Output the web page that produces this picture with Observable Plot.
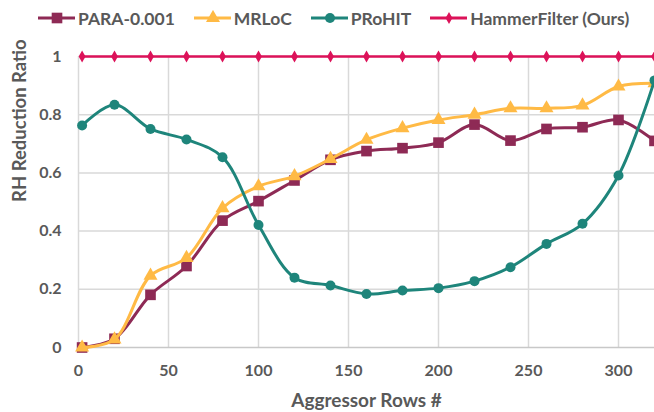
<!DOCTYPE html>
<html><head><meta charset="utf-8">
<script src="https://cdn.jsdelivr.net/npm/d3@7"></script>
<script src="https://cdn.jsdelivr.net/npm/@observablehq/plot@0.6"></script>
<style>
body{margin:0;background:#fff;font-family:Lato,sans-serif;overflow:hidden;}
#legend{height:36px;display:flex;align-items:center;padding-left:38px;font-weight:700;font-size:17.5px;color:#595959;white-space:nowrap;}
.item{display:flex;align-items:center;margin-right:19px;}
.item svg{margin-right:3px;}
</style></head><body>
<div id="legend"></div><div id="chart"></div>
<script>
const rows = [2,20,40,60,80,100,120,140,160,180,200,220,240,260,280,300,320];
const para = [0,0.03,0.181,0.28,0.436,0.503,0.574,0.645,0.675,0.685,0.704,0.766,0.711,0.751,0.757,0.782,0.71];
const mrloc = [0,0.028,0.247,0.308,0.479,0.554,0.589,0.648,0.714,0.754,0.782,0.80,0.822,0.822,0.832,0.897,0.908];
const prohit = [0.763,0.834,0.751,0.715,0.654,0.421,0.24,0.213,0.184,0.196,0.204,0.228,0.276,0.356,0.425,0.591,0.918];
const hammer = [1,1,1,1,1,1,1,1,1,1,1,1,1,1,1,1,1];
const seriesNames = ["PARA-0.001","MRLoC","PRoHIT","HammerFilter (Ours)"];
const seriesColors = ["#8E2A55","#FFBA45","#1E857B","#DC1259"];
const seriesSymbols = ["square","triangle","circle","diamond"];
const seriesR = [6,5.2,5,3.6];
const xTicks = [0,50,100,150,200,250,300];
const yTicks = [0,0.2,0.4,0.6,0.8,1];

const values = [para, mrloc, prohit, hammer];
const data = [];
values.forEach((vals, s) => vals.forEach((v, i) => data.push({series: seriesNames[s], x: rows[i], y: v})));

// legend
const legend = document.getElementById("legend");
seriesNames.forEach((n, i) => {
  const item = document.createElement("div");
  item.className = "item";
  const sym = d3.symbol(d3[{square:"symbolSquare",triangle:"symbolTriangle",circle:"symbolCircle",diamond:"symbolDiamond"}[seriesSymbols[i]]], Math.PI*seriesR[i]*seriesR[i])();
  item.innerHTML = `<svg width="37" height="16"><line x1="0" x2="37" y1="8" y2="8" stroke="${seriesColors[i]}" stroke-width="3"/><path transform="translate(19,8)" d="${sym}" fill="${seriesColors[i]}"/></svg><span>${n}</span>`;
  legend.appendChild(item);
});

const marks = [
  Plot.gridX(xTicks, {stroke:"#D9D9D9", strokeOpacity:1, strokeWidth:1.5}),
  Plot.gridY(yTicks.slice(1), {stroke:"#D9D9D9", strokeOpacity:1, strokeWidth:1.5}),
  Plot.ruleY([0], {stroke:"#C8C8C8", strokeWidth:1.5}),
  Plot.axisX(xTicks, {tickSize:0, tickPadding:17, fontSize:16, fontWeight:700, fill:"#595959", label:null}),
  Plot.axisY(yTicks, {tickSize:0, tickPadding:17, fontSize:16, fontWeight:700, fill:"#595959", label:null, tickFormat: d => String(d)}),
  Plot.text(["Aggressor Rows #"], {frameAnchor:"bottom", dy:59, fontSize:19, fontWeight:700, fill:"#595959"}),
  Plot.text(["RH Reduction Ratio"], {frameAnchor:"left", dx:-58, rotate:-90, fontSize:18.5, fontWeight:700, fill:"#595959"})
];
seriesNames.forEach((n, i) => {
  const d = data.filter(r => r.series === n);
  marks.push(Plot.line(d, {x:"x", y:"y", stroke:seriesColors[i], strokeWidth: i===3 ? 2.5 : 3, curve:"catmull-rom"}));
  marks.push(Plot.dot(d, {x:"x", y:"y", fill:seriesColors[i], symbol:seriesSymbols[i], r:seriesR[i], stroke:"none"}));
});

const chart = Plot.plot({
  width: 654, height: 376,
  marginTop: 20, marginBottom: 65, marginLeft: 78, marginRight: 0,
  x: {domain:[0,320]},
  y: {domain:[0,1]},
  style: {fontFamily:"Lato, sans-serif", color:"#595959", background:"#fff", overflow:"visible"},
  marks
});
document.getElementById("chart").appendChild(chart);
</script>
</body></html>
